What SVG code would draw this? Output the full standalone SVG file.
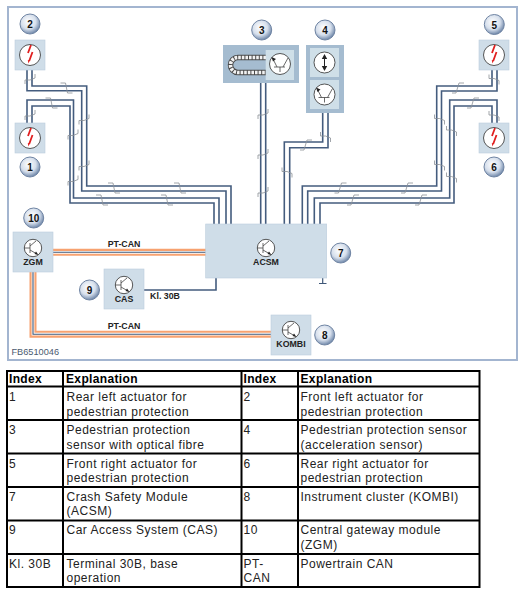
<svg xmlns="http://www.w3.org/2000/svg" width="526" height="594" viewBox="0 0 526 594">
<style>
text{font-family:"Liberation Sans",Arial,sans-serif;fill:#111}
.w{fill:none;stroke:#445c7e;stroke-width:1.6}
.s{fill:none;stroke:#8a8f96;stroke-width:.8}
.box{fill:#cfdde8;stroke:#bccddc;stroke-width:.6}
.dk{fill:#a5bcd0}
.panel{fill:#cfdfe8}
.c{fill:#fff;stroke:#444;stroke-width:.9}
.ic{fill:none;stroke:#444;stroke-width:.8}
.b{fill:url(#bg);stroke:#6f84a3;stroke-width:1}
.bt{font-size:10px;font-weight:bold;text-anchor:middle}
.lbl{font-size:8.8px;font-weight:bold;text-anchor:middle;fill:#222}
.t{font-size:12px;letter-spacing:.5px;fill:#222}
.h{font-size:12px;font-weight:bold;letter-spacing:.35px;fill:#000}
.g{fill:none;stroke:#000;stroke-width:2}
</style>
<defs>
<radialGradient id="bg" cx=".42" cy=".38" r=".62"><stop offset="0" stop-color="#fff"/><stop offset=".6" stop-color="#d6dfec"/><stop offset="1" stop-color="#7088aa"/></radialGradient>
<path id="hd" class="s" d="M-6-5H-1L1 5H6"/>
<path id="ha" class="s" d="M-6 5H-2L1-5H6"/>
<path id="va" class="s" d="M-5 5V1H0L5-1V-5"/>
<path id="vd" class="s" d="M-5-5V-1H0L5 1V5"/>
<g id="act"><circle class="c" r="10.5"/><path d="M1-10-2-2M2.500-3-.8 6" fill="none" stroke="#e01f1f" stroke-width="1.8"/><path d="M-2.200 5-.1 5.600-1.600 8.500Z" fill="#e01f1f"/></g>
<g id="tr"><circle class="c" r="8.700"/><path class="ic" d="M-8.700 0H-3M-3-5V5M-3-2 3-7M-3 2 4 6"/><path d="M5.500 7 1.500 6 3 3.500Z" fill="#222"/></g>
<g id="sn"><circle class="c" r="10.500"/><path class="ic" d="M-6 3H5M0 3V8M-3 3-7-5M3 3 8-6"/><path d="M-8.500-7-4-5-7-2.500Z" fill="#222"/></g>
</defs>
<rect width="526" height="594" fill="#fff"/>
<rect id="frame" x="8" y="7" width="509" height="353" fill="none" stroke="#a3b5d0" stroke-width="2"/>

<g id="connectors">
<path class="w" d="M32 70V86H86.700V186H231V224"/>
<path class="w" d="M27 70V90.700H81.700V191H226V224"/>
<path class="w" d="M27 123V100H73.500V198H219V224"/>
<path class="w" d="M32 123V106H70V203H214V224"/>
<path class="w" d="M260.700 83V224M265.700 83V224"/>
<path class="w" d="M322.700 113V142H284.300V224"/>
<path class="w" d="M328 113V147.700H289.700V224"/>
<path class="w" d="M492 70V86H436.700V186H302.300V224"/>
<path class="w" d="M497 70V91H441.500V191H307.700V224"/>
<path class="w" d="M497 123V100H449.700V198H314.300V224"/>
<path class="w" d="M492 123V106H454V203H320V224"/>
<path d="M53 252.300H206M33 272V334.200H271" fill="none" stroke="#f7a270" stroke-width="7"/>
<path d="M53 252.300H206M33 272V334.200H271" fill="none" stroke="#fff" stroke-width="2.800"/>
<path d="M53 252.300H206M33 272V334.200H271" fill="none" stroke="#3f5878" stroke-width="1.100"/>
<path class="w" d="M144 290H216V278"/>
<path d="M322.700 278V283.500M319 283.500H326.500" fill="none" stroke="#3f5878" stroke-width="1.200"/>
<g id="breaks">
<use href="#va" x="30" y="79"/><use href="#va" x="30" y="115"/>
<use href="#hd" x="66.500" y="88"/><use href="#hd" x="51.500" y="103"/>
<use href="#va" x="84" y="119.500"/><use href="#va" x="84" y="165.500"/>
<use href="#va" x="73" y="134.500"/><use href="#va" x="73" y="180.500"/>
<use href="#hd" x="114" y="188"/><use href="#hd" x="180" y="188"/>
<use href="#hd" x="102" y="200"/><use href="#hd" x="167" y="200"/>
<use href="#va" x="263" y="114"/><use href="#va" x="263" y="154"/><use href="#va" x="263" y="192"/>
<use href="#vd" x="325.500" y="137"/><use href="#ha" x="306" y="145"/><use href="#vd" x="287" y="172.500"/>
<use href="#ha" x="340.500" y="188"/><use href="#ha" x="407" y="188"/>
<use href="#ha" x="353" y="200"/><use href="#ha" x="421" y="200"/>
<use href="#vd" x="439.500" y="119.500"/><use href="#vd" x="439.500" y="165.500"/>
<use href="#vd" x="451.500" y="131"/><use href="#vd" x="451.500" y="177.500"/>
<use href="#ha" x="458" y="88"/><use href="#ha" x="473" y="103"/>
<use href="#vd" x="494" y="79.500"/><use href="#vd" x="494" y="116"/>
</g>
</g>

<g id="node-1"><rect class="box" x="15" y="123" width="30" height="30"/><use href="#act" x="30" y="138"/><circle class="b" cx="30" cy="167" r="10"/><text class="bt" x="30" y="171">1</text></g>
<g id="node-2"><rect class="box" x="15" y="40" width="30" height="30"/><use href="#act" x="30" y="55"/><circle class="b" cx="30" cy="24" r="10"/><text class="bt" x="30" y="28">2</text></g>
<g id="node-3"><rect class="dk" x="223" y="45" width="76" height="38"/>
<path d="M266 57.500H238A7.500 7.500 0 0 0 238 72.500H266" fill="none" stroke="#4a4a4a" stroke-width="5.500"/>
<path d="M266 57.500H238A7.500 7.500 0 0 0 238 72.500H266" fill="none" stroke="#f2f2f2" stroke-width="3.600" stroke-dasharray="2.600 1"/>
<rect class="panel" x="265.700" y="50" width="28.300" height="30"/><use href="#sn" x="280" y="64"/><circle class="b" cx="261.700" cy="30" r="10"/><text class="bt" x="261.700" y="34">3</text></g>
<g id="node-4"><rect class="dk" x="306" y="45" width="38" height="68"/><rect class="panel" x="310" y="48" width="29" height="29"/><rect class="panel" x="310" y="80" width="29" height="29"/>
<circle class="c" cx="324.500" cy="62.500" r="10.500"/><path d="M324.500 56V69" stroke="#222" stroke-width="1"/><path d="M324.500 54 321.800 59H327.200ZM324.500 71 321.800 66H327.200Z" fill="#222"/>
<use href="#sn" x="324.500" y="94.500"/><circle class="b" cx="325" cy="30" r="10"/><text class="bt" x="325" y="34">4</text></g>
<g id="node-5"><rect class="box" x="479" y="40" width="30" height="30"/><use href="#act" x="494" y="55"/><circle class="b" cx="494.300" cy="24.500" r="10"/><text class="bt" x="494.300" y="28.500">5</text></g>
<g id="node-6"><rect class="box" x="479" y="123" width="30" height="30"/><use href="#act" x="494" y="138"/><circle class="b" cx="494" cy="167" r="10"/><text class="bt" x="494" y="171">6</text></g>
<g id="node-7"><rect class="box" x="205.700" y="224" width="121" height="54"/><use href="#tr" x="266" y="248"/><text class="lbl" x="266" y="265">ACSM</text><circle class="b" cx="340.700" cy="253" r="10"/><text class="bt" x="340.700" y="257">7</text></g>
<g id="node-8"><rect class="box" x="271" y="315" width="40" height="40"/><use href="#tr" x="291" y="330"/><text class="lbl" x="291" y="347">KOMBI</text><circle class="b" cx="324.700" cy="335" r="10"/><text class="bt" x="324.700" y="339">8</text></g>
<g id="node-9"><rect class="box" x="104" y="269" width="40" height="40"/><use href="#tr" x="124" y="285"/><text class="lbl" x="124" y="302">CAS</text><circle class="b" cx="89.500" cy="290" r="10"/><text class="bt" x="89.500" y="294">9</text></g>
<g id="node-10"><rect class="box" x="13" y="232" width="40" height="40"/><use href="#tr" x="33" y="248"/><text class="lbl" x="33" y="265">ZGM</text><circle class="b" cx="33.700" cy="218" r="10"/><text class="bt" x="33.700" y="222">10</text></g>

<g id="labels">
<text class="lbl" x="124" y="247">PT-CAN</text>
<text class="lbl" x="124" y="329">PT-CAN</text>
<text class="lbl" x="165" y="299">Kl. 30B</text>
<text x="11.500" y="355" font-size="9.200" style="fill:#4a5a70">FB6510046</text>
</g>

<g id="table">
<rect class="g" x="7" y="371" width="472.500" height="216"/>
<path class="g" d="M7 386.500H479.500M7 420H479.500M7 453.500H479.500M7 487H479.500M7 520.500H479.500M7 554H479.500M63 371V587M241.500 371V587M298 371V587"/>
<text class="h" x="9" y="383">Index</text><text class="h" x="66" y="383">Explanation</text><text class="h" x="243.500" y="383">Index</text><text class="h" x="300.500" y="383">Explanation</text>
<text class="t" x="9" y="401">1</text><text class="t" x="66.500" y="401">Rear left actuator for</text><text class="t" x="66.500" y="415.500">pedestrian protection</text>
<text class="t" x="243.500" y="401">2</text><text class="t" x="300.500" y="401">Front left actuator for</text><text class="t" x="300.500" y="415.500">pedestrian protection</text>
<text class="t" x="9" y="434">3</text><text class="t" x="66.500" y="434">Pedestrian protection</text><text class="t" x="66.500" y="448.500">sensor with optical fibre</text>
<text class="t" x="243.500" y="434">4</text><text class="t" x="300.500" y="434">Pedestrian protection sensor</text><text class="t" x="300.500" y="448.500">(acceleration sensor)</text>
<text class="t" x="9" y="467.500">5</text><text class="t" x="66.500" y="467.500">Front right actuator for</text><text class="t" x="66.500" y="482">pedestrian protection</text>
<text class="t" x="243.500" y="467.500">6</text><text class="t" x="300.500" y="467.500">Rear right actuator for</text><text class="t" x="300.500" y="482">pedestrian protection</text>
<text class="t" x="9" y="501">7</text><text class="t" x="66.500" y="501">Crash Safety Module</text><text class="t" x="66.500" y="515">(ACSM)</text>
<text class="t" x="243.500" y="501">8</text><text class="t" x="300.500" y="501">Instrument cluster (KOMBI)</text>
<text class="t" x="9" y="534">9</text><text class="t" x="66.500" y="534">Car Access System (CAS)</text>
<text class="t" x="243.500" y="534">10</text><text class="t" x="300.500" y="534">Central gateway module</text><text class="t" x="300.500" y="548.500">(ZGM)</text>
<text class="t" x="9" y="567.500">Kl. 30B</text><text class="t" x="66.500" y="567.500">Terminal 30B, base</text><text class="t" x="66.500" y="582">operation</text>
<text class="t" x="243.500" y="567.500">PT-</text><text class="t" x="243.500" y="582">CAN</text><text class="t" x="300.500" y="567.500">Powertrain CAN</text>
</g>
</svg>
